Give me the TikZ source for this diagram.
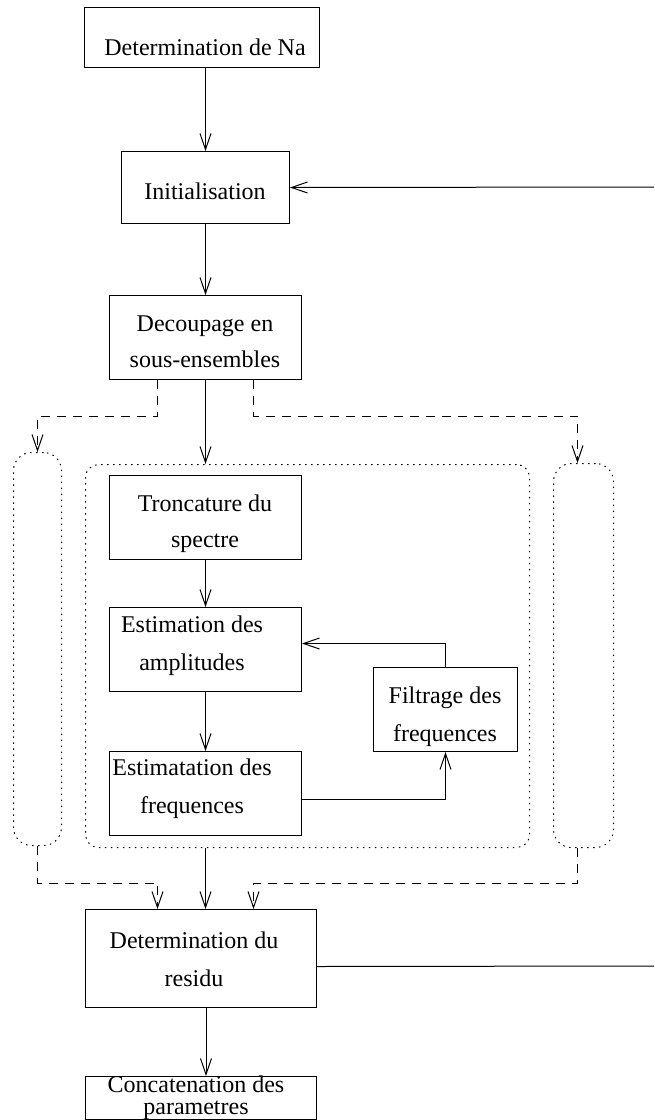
\documentclass[tikz,border=0pt]{standalone}
\usepackage{fontspec}
\setmainfont{Liberation Serif}
\usetikzlibrary{arrows.meta}
\begin{document}
\begin{tikzpicture}[x=1pt,y=-1pt,
  box/.style={draw,line width=1pt,inner sep=0pt,anchor=north west},
  txt/.style={anchor=base,inner sep=0pt,font=\fontsize{24}{30}\selectfont},
  arr/.style={line width=1pt,-{Straight Barb[length=16pt,width=11pt,line width=1pt]}},
  dasharr/.style={arr,dash pattern=on 9pt off 7pt},
  plain/.style={line width=1pt},
  dotbox/.style={draw,line width=1pt,dash pattern=on 1.5pt off 4.5pt,rounded corners=13pt,inner sep=0pt,anchor=north west},
  capsule/.style={dotbox,rounded corners=18pt}
]
\useasboundingbox (0,0) rectangle (654,1120);

% boxes
\node[box,minimum width=235pt,minimum height=60pt] (DetNa) at (84,7) {};
\node[box,minimum width=168pt,minimum height=72pt] (Init) at (121,151) {};
\node[box,minimum width=192pt,minimum height=84pt] (Decoup) at (109,295) {};
\node[dotbox,minimum width=444pt,minimum height=383pt] (Inner) at (85,464) {};
\node[capsule,minimum width=48pt,minimum height=393pt] (LeftCap) at (13,452) {};
\node[capsule,minimum width=60pt,minimum height=384pt] (RightCap) at (553,463) {};
\node[box,minimum width=192pt,minimum height=84pt] (Tronc) at (109,475) {};
\node[box,minimum width=192pt,minimum height=84pt] (Estim) at (109,607) {};
\node[box,minimum width=192pt,minimum height=84pt] (Estimat) at (109,751) {};
\node[box,minimum width=144pt,minimum height=84pt] (Filt) at (373,667) {};
\node[box,minimum width=231pt,minimum height=98pt] (DetRes) at (85,909) {};
\node[box,minimum width=231pt,minimum height=43pt] (Concat) at (85,1076) {};

% texts
\node[txt] (t1) at (205,55) {Determination de Na};
\node[txt] (t2) at (205,199) {Initialisation};
\node[txt] (t3a) at (205,331) {Decoupage en};
\node[txt] (t3b) at (205,367) {sous-ensembles};
\node[txt] (t4a) at (205,511) {Troncature du};
\node[txt] (t4b) at (205,547) {spectre};
\node[txt] (t5a) at (192,632) {Estimation des};
\node[txt] (t5b) at (192,670) {amplitudes};
\node[txt] (t6a) at (192,775) {Estimatation des};
\node[txt] (t6b) at (192,813) {frequences};
\node[txt] (t7a) at (445,703) {Filtrage des};
\node[txt] (t7b) at (445,741) {frequences};
\node[txt] (t8a) at (194,948) {Determination du};
\node[txt] (t8b) at (194,986) {residu};
\node[txt] (t9a) at (196,1092) {Concatenation des};
\node[txt] (t9b) at (196,1114) {parametres};

% free ends on the right edge
\coordinate (rin) at (654,187);
\coordinate (rout) at (654,966);

% connectors
\draw[arr] (DetNa.south -| Init.north) -- (Init.north);
\draw[arr] (rin) -- (Init.east);
\draw[arr] (Init.south) -- (Decoup.north);
\draw[arr] (Decoup.south) -- (Decoup.south |- Inner.north);
\draw[dasharr] ([xshift=-48pt]Decoup.south) -- ++(0,36) -| (LeftCap.north);
\draw[dasharr] ([xshift=48pt]Decoup.south) -- ++(0,36) -| ([xshift=-6pt]RightCap.north);
\draw[arr] (Tronc.south) -- (Estim.north);
\draw[arr] (Estim.south) -- (Estimat.north);
\draw[arr] (Filt.north) |- ([yshift=6pt]Estim.east);
\draw[arr] ([yshift=-6pt]Estimat.east) -| (Filt.south);
\draw[arr] (Decoup.south |- Inner.south) -- (Decoup.south |- DetRes.north);
\draw[dasharr] (LeftCap.south) -- ++(0,37) -| ([xshift=-43.5pt]DetRes.north);
\draw[dasharr] ([xshift=-6pt]RightCap.south) -- ++(0,35) -| ([xshift=52.5pt]DetRes.north);
\draw[plain] ([yshift=-8pt]DetRes.east) -- (rout);
\draw[arr] ([xshift=5pt]DetRes.south) -- ([xshift=5pt]Concat.north);
\end{tikzpicture}
\end{document}
